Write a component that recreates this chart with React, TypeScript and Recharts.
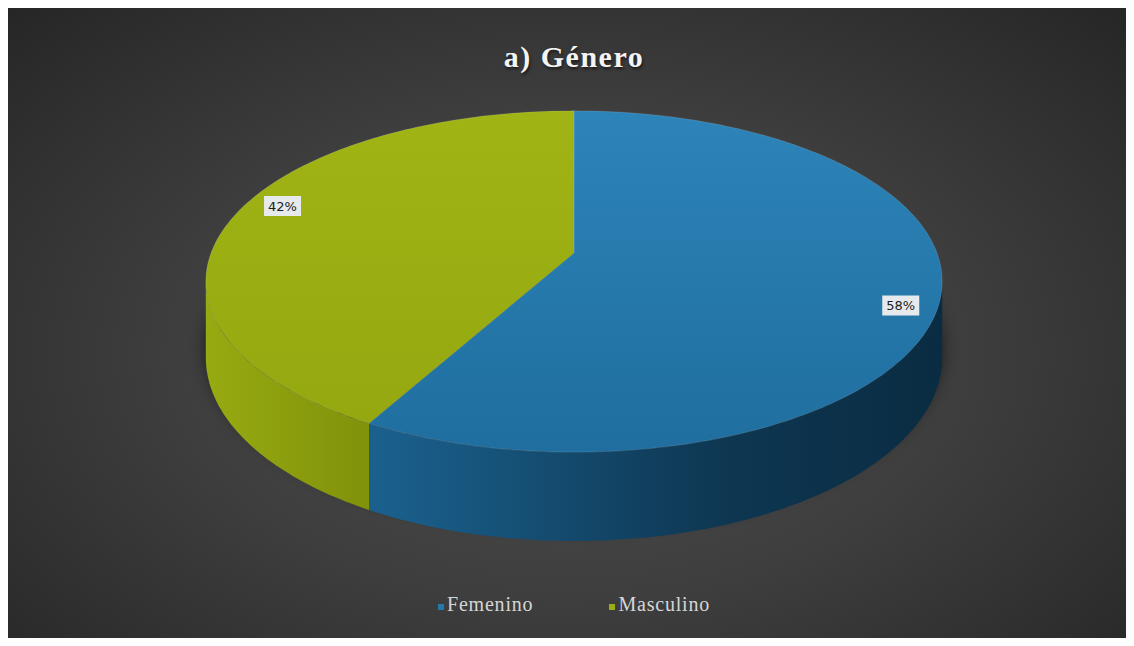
import React from "react";
import { PieChart, Pie, Cell, Legend } from "recharts";

const categories = ["Femenino", "Masculino"];
const values = [58, 42];
const colors = ["#2578ab", "#9aad12"];

const data = categories.map((name, i) => ({ name, value: values[i] }));

const RAD = Math.PI / 180;
const SQUASH = 0.457; // vertical flattening of the top face
const PERSP = 0.167; // back of the pie shrinks, front grows
const DEPTH = 74;
const EDGE = Math.asin(PERSP) / RAD; // where the side wall meets the outline

// project a point on the pie (radius r, angle a in degrees) to the screen
const proj = (cx: number, cy: number, r: number, a: number, drop = 0) => {
  const c = Math.cos(a * RAD);
  const sn = Math.sin(a * RAD);
  const s = 1 / (1 + PERSP * sn);
  return [cx + r * c * s, cy - r * SQUASH * sn * s + drop * s];
};

const arcPts = (cx: number, cy: number, r: number, a: number, b: number, drop = 0) => {
  const n = Math.max(2, Math.ceil(Math.abs(b - a)));
  const pts: number[][] = [];
  for (let i = 0; i <= n; i++) pts.push(proj(cx, cy, r, a + ((b - a) * i) / n, drop));
  return pts;
};

const frontRanges = (lo: number, hi: number) => {
  const out: [number, number][] = [];
  for (const k of [-360, 0, 360]) {
    const a = Math.max(lo, -180 + EDGE + k);
    const b = Math.min(hi, -EDGE + k);
    if (b > a) out.push([a, b]);
  }
  return out;
};

const toPath = (pts: number[][]) =>
  pts.map((p, i) => `${i ? "L" : "M"}${p[0].toFixed(1)},${p[1].toFixed(1)}`).join(" ") + " Z";

const SliceShape = (props: any) => {
  const { cx, cy, outerRadius: r, startAngle, endAngle, index } = props;
  const top = toPath([[cx, cy], ...arcPts(cx, cy, r, startAngle, endAngle)]);
  const lo = Math.min(startAngle, endAngle);
  const hi = Math.max(startAngle, endAngle);
  const sides = frontRanges(lo, hi).map(([a, b]) =>
    toPath([...arcPts(cx, cy, r, a, b), ...arcPts(cx, cy, r, b, a, DEPTH)])
  );
  return (
    <g>
      {index === 0 && (
        <ellipse
          cx={cx}
          cy={cy + 95}
          rx={r + 2}
          ry={r * SQUASH * 1.05}
          fill="#0e0e0e"
          opacity={0.8}
          filter="url(#shadowBlur)"
        />
      )}
      {sides.map((d, i) => (
        <path key={i} d={d} fill={`url(#side${index})`} />
      ))}
      <path d={top} fill={`url(#top${index})`} stroke="rgba(255,255,255,0.12)" strokeWidth={1} />
    </g>
  );
};

const renderLabel = (props: any) => {
  const { cx, cy, midAngle, outerRadius, percent } = props;
  const [x, y] = proj(cx, cy, outerRadius * 0.9, midAngle - 5);
  const txt = `${Math.round(percent * 100)}%`;
  return (
    <g>
      <rect x={x - 18} y={y - 10} width={37} height={20} fill="#e6eaec" />
      <text
        x={x + 0.5}
        y={y + 1}
        textAnchor="middle"
        dominantBaseline="middle"
        fontFamily="DejaVu Sans, sans-serif"
        fontSize={13}
        fill="#1d1d1d"
      >
        {txt}
      </text>
    </g>
  );
};

const renderLegend = (props: any) => {
  const { payload } = props;
  return (
    <div style={{ display: "flex", justifyContent: "center", gap: 76, paddingLeft: 14 }}>
      {payload.map((p: any, i: number) => (
        <div key={i} style={{ display: "flex", alignItems: "center" }}>
          <span
            style={{
              width: 6,
              height: 6,
              background: colors[i],
              display: "inline-block",
              marginRight: 3,
              marginTop: 4,
            }}
          />
          <span
            style={{
              color: "#d6d6d6",
              fontFamily: "Liberation Serif, serif",
              fontSize: 20,
              letterSpacing: 0.8,
            }}
          >
            {p.value}
          </span>
        </div>
      ))}
    </div>
  );
};

export default function App() {
  return (
    <div
      style={{
        width: 1118,
        height: 630,
        position: "relative",
        background: "radial-gradient(ellipse at 50% 55%, #4f4f4f 0%, #3e3e3e 50%, #262626 100%)",
      }}
    >
      <div
        style={{
          position: "absolute",
          top: 32,
          left: 14,
          right: 0,
          textAlign: "center",
          color: "#f4f4f4",
          fontFamily: "Liberation Serif, serif",
          fontWeight: "bold",
          fontSize: 30,
          letterSpacing: 1.5,
          textShadow: "1px 2px 3px rgba(0,0,0,0.6)",
        }}
      >
        a) Género
      </div>
      <PieChart
        width={1118}
        height={630}
        margin={{ top: 0, right: 0, bottom: 0, left: 0 }}
        style={{ position: "absolute", top: 0, left: 0 }}
      >
        <defs>
          <filter id="shadowBlur" x="-20%" y="-50%" width="140%" height="200%">
            <feGaussianBlur stdDeviation="10" />
          </filter>
          <linearGradient id="top0" x1="0" y1="0" x2="0" y2="1">
            <stop offset="0%" stopColor="#2d84b8" />
            <stop offset="100%" stopColor="#1f6e9f" />
          </linearGradient>
          <linearGradient id="top1" x1="0" y1="0" x2="0" y2="1">
            <stop offset="0%" stopColor="#a0b415" />
            <stop offset="100%" stopColor="#95a810" />
          </linearGradient>
          <linearGradient id="side0" gradientUnits="userSpaceOnUse" x1="199" y1="0" x2="934" y2="0">
            <stop offset="0%" stopColor="#1f6c9c" />
            <stop offset="25%" stopColor="#1a5f8b" />
            <stop offset="70%" stopColor="#0e3752" />
            <stop offset="100%" stopColor="#0a2c42" />
          </linearGradient>
          <linearGradient id="side1" gradientUnits="userSpaceOnUse" x1="199" y1="0" x2="370" y2="0">
            <stop offset="0%" stopColor="#97aa11" />
            <stop offset="100%" stopColor="#7f900a" />
          </linearGradient>
        </defs>
        <Pie
          data={data}
          dataKey="value"
          nameKey="name"
          cx={566}
          cy={245}
          outerRadius={363}
          startAngle={90}
          endAngle={-270}
          stroke="none"
          shape={SliceShape}
          label={renderLabel}
          labelLine={false}
          isAnimationActive={false}
        >
          {data.map((d, i) => (
            <Cell key={d.name} fill={colors[i]} />
          ))}
        </Pie>
        <Legend content={renderLegend} verticalAlign="bottom" wrapperStyle={{ bottom: 22 }} />
      </PieChart>
    </div>
  );
}
